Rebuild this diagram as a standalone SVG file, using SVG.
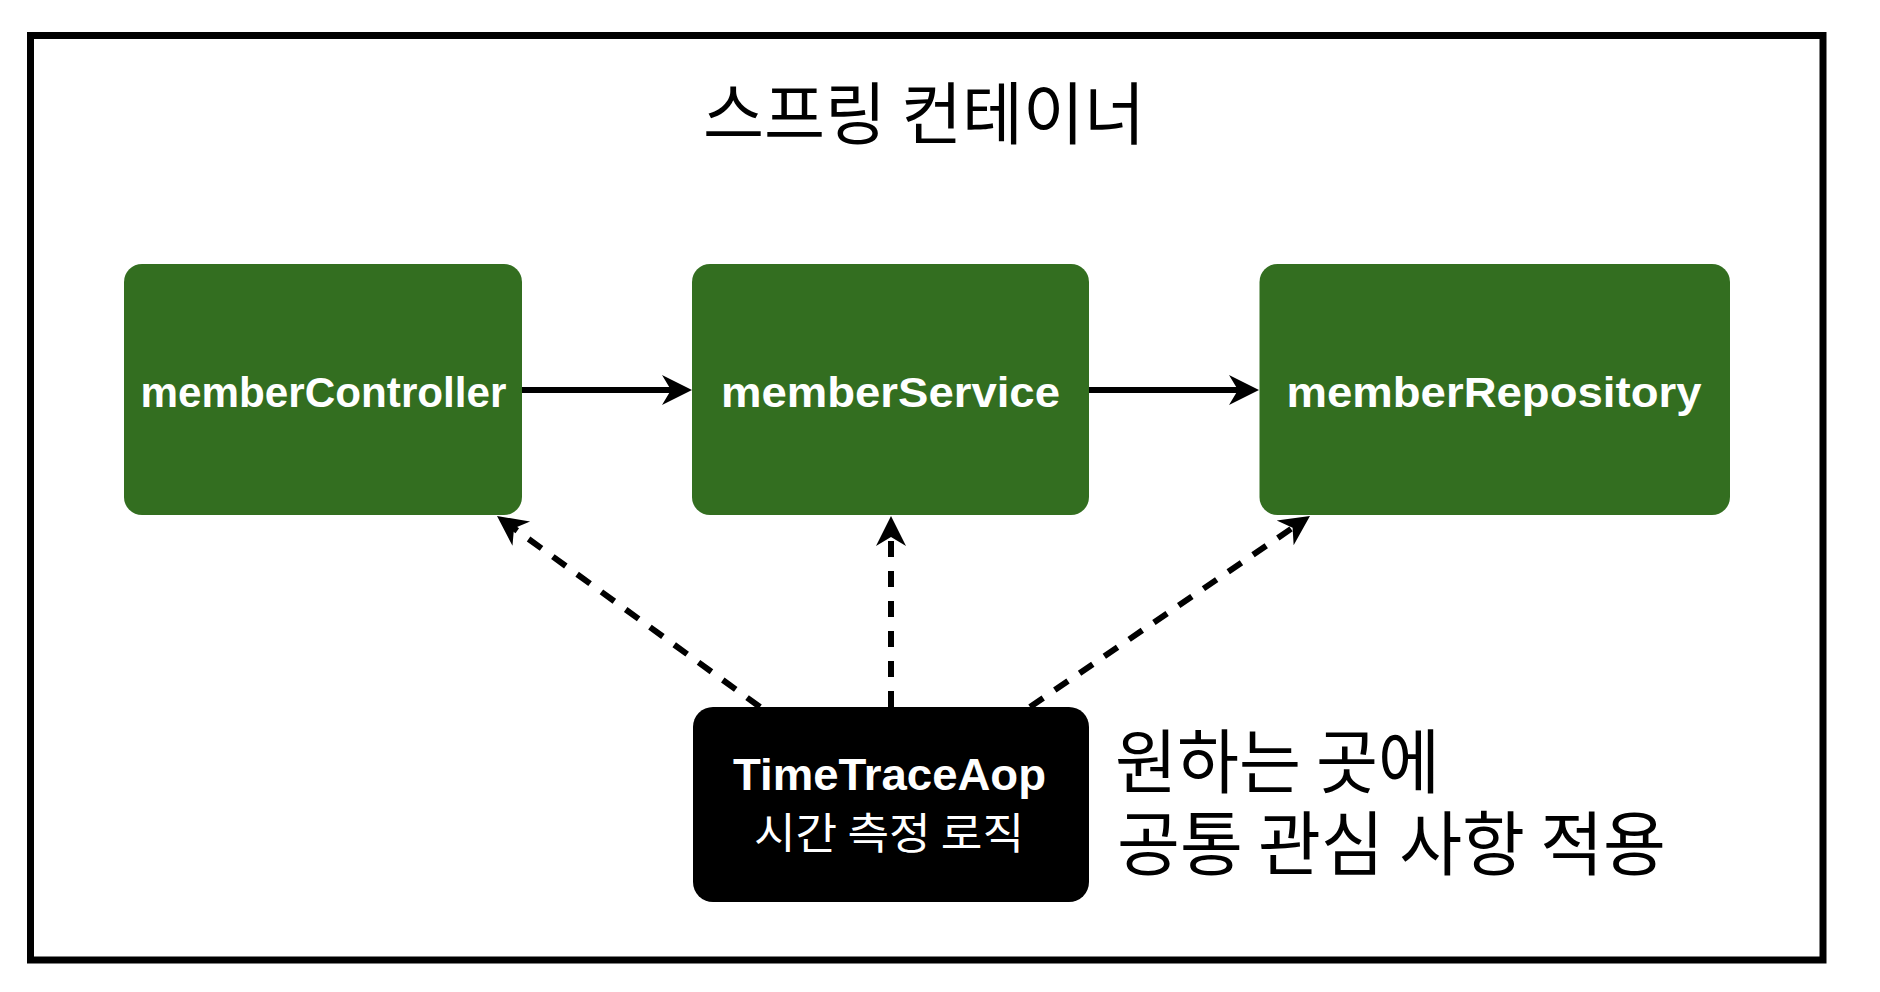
<svg xmlns="http://www.w3.org/2000/svg" width="1880" height="992" viewBox="0 0 1880 992">
<style>
.frame{fill:none;stroke:#000;stroke-width:7}
.bean{fill:#336e20}
.aop{fill:#000}
.lbl{font-family:"Liberation Sans","Noto Sans CJK KR",Arial,sans-serif;font-weight:bold;fill:#fff;text-anchor:middle}
.kr{font-family:"Noto Sans CJK KR","Noto Sans",sans-serif;fill:#000}
.krw{font-family:"Noto Sans CJK KR","Noto Sans",sans-serif;fill:#fff;text-anchor:middle}
.solid{stroke:#000;stroke-width:6;fill:none}
.dash{stroke:#000;stroke-width:6;fill:none;stroke-dasharray:16 14}
</style>
<defs>
<marker id="ah" markerUnits="userSpaceOnUse" viewBox="-42 -16 44 32" markerWidth="44" markerHeight="32" refX="-10" refY="0" orient="auto">
<path d="M0,0 L-30,-15 L-21,0 L-30,15 Z" fill="#000"/>
</marker>
</defs>
<rect width="1880" height="992" fill="#fff"/>
<rect id="container" class="frame" x="30.5" y="35.5" width="1792.5" height="924.5"/>
<text id="title" class="kr" x="924" y="139" font-size="68" text-anchor="middle" textLength="442" lengthAdjust="spacingAndGlyphs">스프링 컨테이너</text>
<g id="connectors">
<line class="solid" x1="522" y1="390" x2="682" y2="390" marker-end="url(#ah)"/>
<line class="solid" x1="1089" y1="390" x2="1249" y2="390" marker-end="url(#ah)"/>
<line class="dash" x1="760" y1="707" x2="505.1" y2="521.9" marker-end="url(#ah)"/>
<line class="dash" x1="891" y1="707" x2="891" y2="526" marker-end="url(#ah)"/>
<line class="dash" x1="1030" y1="707" x2="1301.7" y2="521.6" marker-end="url(#ah)"/>
</g>
<g id="memberController">
<rect class="bean" x="124" y="264" width="398" height="251" rx="18"/>
<text class="lbl" x="323.5" y="406.5" font-size="43" textLength="366" lengthAdjust="spacingAndGlyphs">memberController</text>
</g>
<g id="memberService">
<rect class="bean" x="692" y="264" width="397" height="251" rx="18"/>
<text class="lbl" x="890.5" y="406.5" font-size="43" textLength="339" lengthAdjust="spacingAndGlyphs">memberService</text>
</g>
<g id="memberRepository">
<rect class="bean" x="1259.5" y="264" width="470.5" height="251" rx="18"/>
<text class="lbl" x="1494" y="406.5" font-size="43" textLength="415" lengthAdjust="spacingAndGlyphs">memberRepository</text>
</g>
<g id="timeTraceAop">
<rect class="aop" x="693" y="707" width="396" height="195" rx="20"/>
<text class="lbl" x="889.5" y="790" font-size="44" textLength="313" lengthAdjust="spacingAndGlyphs">TimeTraceAop</text>
<text class="krw" x="889" y="849" font-size="43" textLength="270" lengthAdjust="spacingAndGlyphs">시간 측정 로직</text>
</g>
<g id="note">
<text class="kr" x="1115" y="788" font-size="70" textLength="325" lengthAdjust="spacingAndGlyphs">원하는 곳에</text>
<text class="kr" x="1117" y="870" font-size="70" textLength="549" lengthAdjust="spacingAndGlyphs">공통 관심 사항 적용</text>
</g>
</svg>
